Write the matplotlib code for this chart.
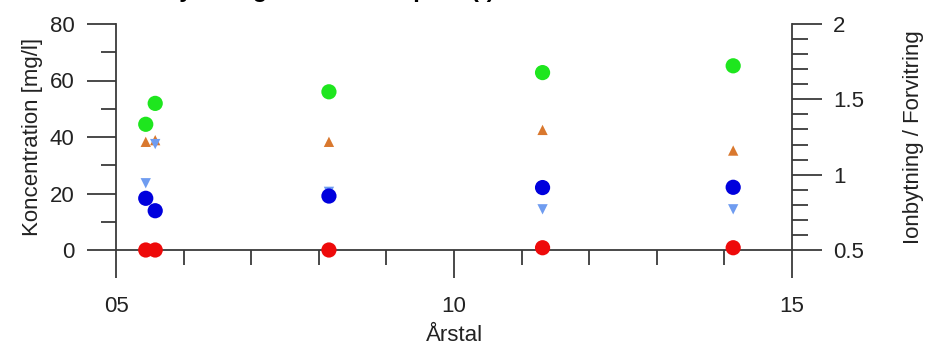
import numpy as np
import matplotlib
matplotlib.use('Agg')
import matplotlib.pyplot as plt
from matplotlib.ticker import MultipleLocator, FixedLocator

plt.rcParams['font.family'] = ['Liberation Sans', 'DejaVu Sans']

# concentrations [mg/l], left axis
yr_green = [5.44, 5.58, 8.15, 11.31, 14.13]
green = [44.5, 51.9, 56.0, 62.8, 65.2]
yr_blue = [5.44, 5.58, 8.15, 11.31, 14.13]
blue = [18.3, 13.9, 19.1, 22.1, 22.2]
yr_red = [5.44, 5.58, 8.15, 11.31, 14.13]
red = [0.0, 0.0, 0.0, 0.8, 0.8]

# ratios, right axis
yr_up = [5.44, 5.58, 8.15, 11.31, 14.13]
up = [1.218, 1.229, 1.218, 1.297, 1.16]
yr_down = [5.44, 5.58, 8.15, 11.31, 14.13]
down = [0.943, 1.203, 0.886, 0.77, 0.77]

xticks = [5, 10, 15]
xticklabels = ['05', '10', '15']

fig = plt.figure(figsize=(9.26, 3.45), dpi=100)
ax = fig.add_axes([116/926, 95/345, 676/926, 226/345])
ax2 = ax.twinx()

spc = '#3a3a3a'
for a in (ax, ax2):
    a.spines['top'].set_visible(False)
    for s in ('left', 'right', 'bottom'):
        a.spines[s].set_color(spc)
        a.spines[s].set_linewidth(1.3)
    a.tick_params(which='major', length=21, width=1.3, color=spc, labelsize=16,
                  labelcolor='#222222', pad=9)
    a.tick_params(which='minor', length=10.5, width=1.3, color=spc)
ax.spines['right'].set_visible(False)
ax2.spines['left'].set_visible(False)
ax2.spines['bottom'].set_visible(False)

ax.set_xlim(5, 15)
ax.set_ylim(0, 80)
ax2.set_ylim(0.5, 2)

ax.xaxis.set_major_locator(FixedLocator(xticks))
ax.set_xticklabels(xticklabels)
ax.xaxis.set_minor_locator(MultipleLocator(1))
ax.yaxis.set_major_locator(MultipleLocator(20))
ax.yaxis.set_minor_locator(MultipleLocator(10))
ax2.yaxis.set_major_locator(FixedLocator([0.5, 1, 1.5, 2]))
ax2.set_yticklabels(['0.5', '1', '1.5', '2'])
ax2.yaxis.set_minor_locator(MultipleLocator(0.1))
ax.tick_params(axis='x', which='major', length=20, pad=13)
ax.tick_params(axis='x', which='minor', length=11)
ax2.tick_params(axis='y', which='major', length=21.5, pad=8)
ax2.tick_params(axis='y', which='minor', length=11.5)

ax2.scatter(yr_up, up, marker='^', s=55, color='#d9782e', edgecolors='none', clip_on=False, zorder=3)
ax2.scatter(yr_down, down, marker='v', s=55, color='#6f9cf0', edgecolors='none', clip_on=False, zorder=3)
ax2.scatter(yr_green, np.array(green) * 1.5 / 80 + 0.5, s=120, color='#1ee61e', edgecolors='none', clip_on=False, zorder=4)
ax2.scatter(yr_blue, np.array(blue) * 1.5 / 80 + 0.5, s=120, color='#0000dd', edgecolors='none', clip_on=False, zorder=4)
ax2.scatter(yr_red, np.array(red) * 1.5 / 80 + 0.5, s=120, color='#ee0a0a', edgecolors='none', clip_on=False, zorder=4)

ax.set_ylabel('Koncentration [mg/l]', fontsize=16, labelpad=5, color='#222222')
ax2.set_ylabel('Ionbytning / Forvitring', fontsize=16, labelpad=28, color='#222222')
ax.set_xlabel('Årstal', fontsize=16, labelpad=6, color='#222222')

fig.text(0.106, 1.009, 'Ca_Älby Åberg dricksvattenprov (-)', fontsize=17,
         fontweight='bold', va='baseline')

fig.savefig('out.png', dpi=100)
